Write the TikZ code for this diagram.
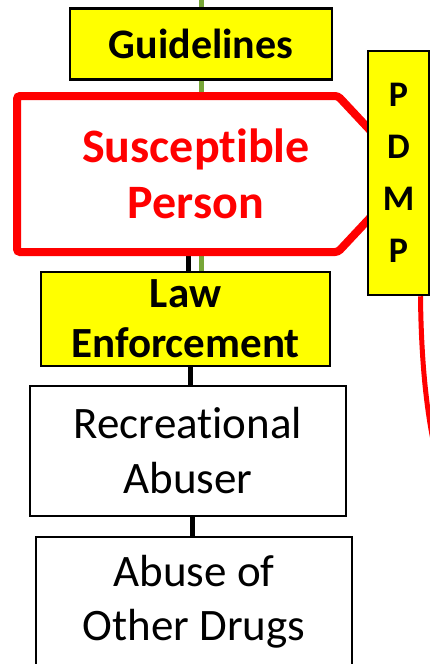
\documentclass[tikz,border=0pt]{standalone}
\usepackage{fontspec}
\setmainfont{Carlito}[Ligatures=NoCommon]
\definecolor{grn}{RGB}{119,166,56}
\definecolor{ylw}{RGB}{255,255,0}
\definecolor{rd}{RGB}{255,0,0}
\tikzset{
  ybox/.style={draw=black, line width=2.5pt, fill=ylw, align=center, inner sep=0pt, font=\bfseries},
  wbox/.style={draw=black, line width=2.5pt, fill=white, align=center, inner sep=0pt},
  blk/.style={draw=black, line width=5pt},
  grnline/.style={draw=grn, line width=5pt},
}
\begin{document}
\begin{tikzpicture}[x=1pt,y=-1pt]
\clip (0,0) rectangle (430,664);
\fill[white] (0,0) rectangle (430,664);
% nodes (positions)
\node[ybox, minimum width=262pt, minimum height=71pt, font=\fontsize{42}{52}\selectfont\bfseries] (guid) at (201,44) {Guidelines};
\node[ybox, minimum width=289pt, minimum height=94pt, font=\fontsize{43}{50}\selectfont\bfseries] (law) at (185.5,319) {Law\\Enforcement};
\node[wbox, minimum width=316pt, minimum height=130pt, font=\fontsize{45}{55}\selectfont] (rec) at (188,451) {Recreational\\Abuser};
\node[wbox, minimum width=316pt, minimum height=130pt, font=\fontsize{45}{54}\selectfont] (abu) at (194,602) {Abuse of\\Other Drugs};
\coordinate (gtop) at (201,0);
% connectors behind boxes
\draw[grnline] (gtop) -- (gtop |- law.north);
\draw[blk] ([xshift=2.5pt]law.north) -- ++(0,-30);
\draw[blk] ([xshift=4.5pt]law.south) -- ([xshift=4.5pt]law.south |- rec.north);
\draw[blk] ([xshift=4pt]rec.south) -- ([xshift=4pt]rec.south |- abu.north);
% redraw boxes on top
\node[ybox, minimum width=262pt, minimum height=71pt, font=\fontsize{42}{52}\selectfont\bfseries] at (guid) {Guidelines};
\node[ybox, minimum width=289pt, minimum height=94pt, font=\fontsize{43}{50}\selectfont\bfseries] at (law) {Law\\Enforcement};
\node[wbox, minimum width=316pt, minimum height=130pt, font=\fontsize{45}{55}\selectfont] at (rec) {Recreational\\Abuser};
\node[wbox, minimum width=316pt, minimum height=130pt, font=\fontsize{45}{54}\selectfont] at (abu) {Abuse of\\Other Drugs};
% susceptible person shape
\draw[rd, line width=8pt, fill=white, rounded corners=3pt] (17,96) -- (338,96) -- (411,174) -- (338,252) -- (17,252) -- cycle;
\node[text=rd, align=center, font=\fontsize{48}{56}\selectfont\bfseries] (sp) at (196,174) {Susceptible\\Person};
% red curve
\node[ybox, minimum width=61pt, minimum height=244pt, font=\fontsize{36}{52}\selectfont\bfseries] (pdmp) at (398.5,173) {P\\D\\M\\P};
\coordinate (cend) at (433,440);
\draw[rd, line width=5pt] ([xshift=22pt]pdmp.south) .. controls (421,350) and (425,400) .. (cend);
\node[ybox, minimum width=61pt, minimum height=244pt, font=\fontsize{36}{52}\selectfont\bfseries] at (pdmp) {P\\D\\M\\P};
\end{tikzpicture}
\end{document}
